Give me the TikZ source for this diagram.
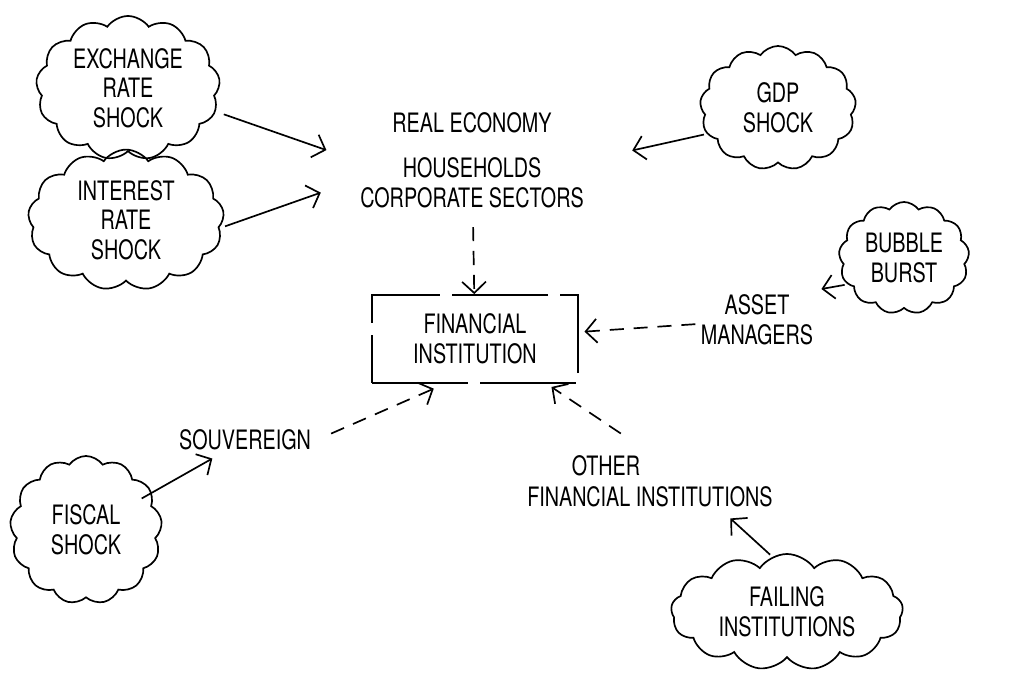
\documentclass[tikz,border=0pt]{standalone}
\usepackage{fontspec}
\setmainfont[FakeStretch=0.74]{TeX Gyre Heros}
\usetikzlibrary{shapes.symbols,positioning,arrows,arrows.meta}

\begin{document}
\begin{tikzpicture}[x=0.025cm,y=-0.025cm,->,>={Straight Barb[length=8pt,width=17pt]},line width=1.2pt,
  font=\fontsize{19}{21}\selectfont,
  shock/.style={cloud,cloud puffs=13,cloud puff arc=110,cloud ignores aspect,draw,align=center},
  word/.style={align=center},
  link/.style={dash pattern=on 10pt off 7pt}]
  \useasboundingbox (0,0) rectangle (1013,677);
  % shocks
  \node[shock,minimum width=4.6cm,minimum height=3.6cm] (exchange) at (128,88) {EXCHANGE\\RATE\\SHOCK};
  \node[shock,minimum width=4.9cm,minimum height=3.5cm] (interest) at (126,220) {INTEREST\\RATE\\SHOCK};
  \node[shock,minimum width=3.9cm,minimum height=3.1cm] (gdp) at (778,108) {GDP\\SHOCK};
  \node[shock,minimum width=3.2cm,minimum height=2.8cm] (bubble) at (904,258) {BUBBLE\\BURST};
  \node[shock,minimum width=3.8cm,minimum height=3.7cm] (fiscal) at (86,530) {FISCAL\\SHOCK};
  \node[shock,minimum width=5.8cm,minimum height=2.9cm] (failing) at (787,612) {FAILING\\INSTITUTIONS};
  % sectors
  \node[word] (economy) at (472,160) {REAL ECONOMY\\[11pt]HOUSEHOLDS\\CORPORATE SECTORS};
  \node[word,draw,-,minimum width=5.15cm,minimum height=2.2cm,dash pattern=on 2.4cm off 0.3cm] (fin) at (475,339) {FINANCIAL\\INSTITUTION};
  \node[word] (asset) at (757,320) {ASSET\\MANAGERS};
  \node[word] (sovereign) at (245,440) {SOUVEREIGN};
  \node[word] (other) at (606,466) {OTHER};
  \node[word] (otherfi) at (650,497) {FINANCIAL INSTITUTIONS};
  \path[->]
    (exchange.-15) edge [shorten <=6pt,shorten >=0.75cm] (economy.west)
    (interest.-5) edge [shorten <=4pt,shorten >=0.9cm] (economy.190)
    (gdp.200) edge [shorten <=2pt,shorten >=1.1cm] (economy.east)
    (economy) edge [link,shorten <=10pt] (fin)
    (bubble.205) edge [shorten <=2pt,shorten >=2pt] (asset.north east)
    (asset) edge [link,shorten >=4pt] (fin)
    (sovereign.east) edge [link,shorten <=0.4cm,shorten >=0.3cm] (fin.-124)
    (fiscal.center) edge [shorten <=1.6cm,shorten >=4pt] (sovereign)
    (other.north east) edge [link,shorten <=0.75cm,shorten >=4pt] (fin.-32)
    (failing.105) edge [shorten <=2pt,shorten >=6pt] (otherfi.-12);
\end{tikzpicture}
\end{document}
